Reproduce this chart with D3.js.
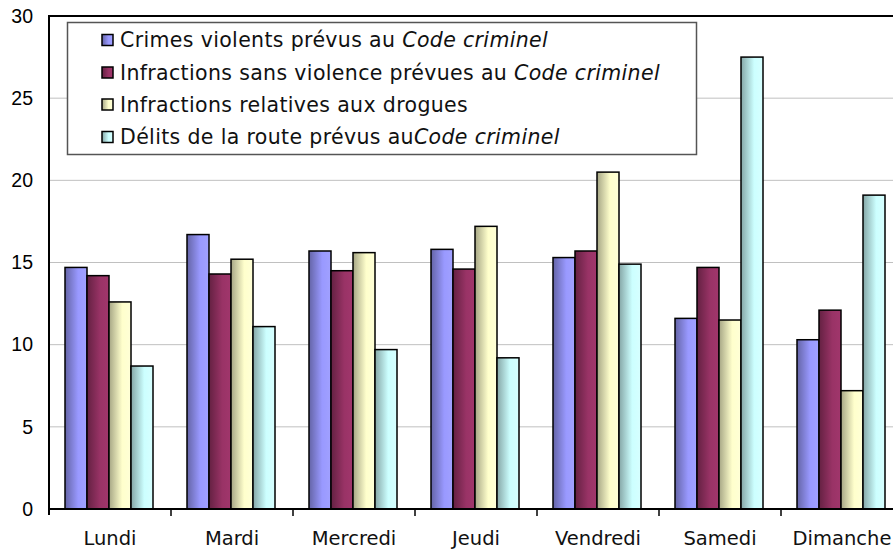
<!DOCTYPE html>
<html><head><meta charset="utf-8">
<script src="https://cdn.jsdelivr.net/npm/d3@7"></script>
<style>body{margin:0;background:#fff;overflow:hidden}svg{display:block}</style>
</head><body>
<script>
const categories = ["Lundi","Mardi","Mercredi","Jeudi","Vendredi","Samedi","Dimanche"];
const seriesNames = [
  ["Crimes violents prévus au ", "Code criminel"],
  ["Infractions sans violence prévues au ", "Code criminel"],
  ["Infractions relatives aux drogues", ""],
  ["Délits de la route prévus au", "Code criminel"]
];
const violent    = [14.7, 16.7, 15.7, 15.8, 15.3, 11.6, 10.3];
const nonViolent = [14.2, 14.3, 14.5, 14.6, 15.7, 14.7, 12.1];
const drugs      = [12.6, 15.2, 15.6, 17.2, 20.5, 11.5, 7.2];
const traffic    = [8.7, 11.1, 9.7, 9.2, 14.9, 27.5, 19.1];
const yTicks = [0, 5, 10, 15, 20, 25, 30];
const colors = ["#9999ff", "#993366", "#ffffcc", "#ccffff"];

(function () {
const series = [violent, nonViolent, drugs, traffic];
const W = 893, H = 550;
const svg = d3.select("body").append("svg").attr("width", W).attr("height", H);
const defs = svg.append("defs");
colors.forEach((c, i) => {
  const g = defs.append("linearGradient").attr("id", "g" + i)
    .attr("x1", "0%").attr("x2", "100%").attr("y1", "0%").attr("y2", "0%");
  const dark = d3.rgb(c).darker(1.2);
  g.append("stop").attr("offset", "0%").attr("stop-color", dark);
  g.append("stop").attr("offset", "60%").attr("stop-color", c);
  g.append("stop").attr("offset", "100%").attr("stop-color", d3.rgb(c).brighter(0.15));
});

const mLeft = 49, mRight = 903, mTop = 16, mBottom = 509;
const y = d3.scaleLinear().domain([0, 30]).range([mBottom, mTop]);
const x0 = d3.scaleBand().domain(categories).range([mLeft, mRight]).padding(0);
const x1 = d3.scaleBand().domain(d3.range(4)).range([16, 104]).padding(0);

// gridlines
svg.append("g").selectAll("line").data(yTicks.filter(t => t > 0 && t < 30)).join("line")
  .attr("x1", mLeft).attr("x2", W).attr("y1", d => y(d)).attr("y2", d => y(d))
  .attr("stroke", "#c0c0c0").attr("stroke-width", 1);

// bars
const groups = svg.append("g").selectAll("g").data(categories).join("g")
  .attr("transform", d => `translate(${x0(d)},0)`);
groups.selectAll("rect").data((d, ci) => series.map((s, si) => ({si, v: s[ci]}))).join("rect")
  .attr("x", d => x1(d.si)).attr("width", x1.bandwidth())
  .attr("y", d => y(d.v)).attr("height", d => y(0) - y(d.v))
  .attr("fill", d => `url(#g${d.si})`).attr("stroke", "#000").attr("stroke-width", 1.5);

// top border
svg.append("line").attr("x1", mLeft).attr("x2", W).attr("y1", mTop).attr("y2", mTop)
  .attr("stroke", "#000").attr("stroke-width", 2);

// y axis
const yAxis = d3.axisLeft(y).tickValues(yTicks).tickSize(0).tickPadding(16).tickFormat(d3.format("d"));
const ya = svg.append("g").attr("transform", `translate(${mLeft},0)`).call(yAxis);
ya.select(".domain").remove();
ya.selectAll("text").attr("font-family", "Liberation Sans, Arial, sans-serif").attr("font-size", "19.5px").attr("fill", "#000");
svg.append("line").attr("x1", mLeft).attr("x2", mLeft).attr("y1", mTop - 1).attr("y2", mBottom + 6)
  .attr("stroke", "#000").attr("stroke-width", 2);

// x axis
const xAxis = d3.axisBottom(x0).tickSize(0).tickPadding(22);
const xa = svg.append("g").attr("transform", `translate(0,${mBottom})`).call(xAxis);
xa.select(".domain").remove();
xa.selectAll("text").attr("font-family", "DejaVu Sans, Verdana, sans-serif").attr("font-size", "19.5px").attr("fill", "#111");
svg.append("line").attr("x1", mLeft).attr("x2", W).attr("y1", mBottom).attr("y2", mBottom)
  .attr("stroke", "#000").attr("stroke-width", 2);
svg.append("g").selectAll("line").data(categories.slice(1)).join("line")
  .attr("x1", d => x0(d)).attr("x2", d => x0(d)).attr("y1", mBottom).attr("y2", mBottom + 7)
  .attr("stroke", "#000").attr("stroke-width", 1.5);

// legend
const lg = svg.append("g");
lg.append("rect").attr("x", 67.5).attr("y", 22.5).attr("width", 629).attr("height", 132)
  .attr("fill", "#fff").attr("stroke", "#555").attr("stroke-width", 1.5);
const baselines = [47, 79.5, 111.5, 144];
seriesNames.forEach((n, i) => {
  lg.append("rect").attr("x", 102).attr("y", baselines[i] - 12.5).attr("width", 11).attr("height", 11)
    .attr("fill", `url(#g${i})`).attr("stroke", "#000").attr("stroke-width", 1.5);
  const t = lg.append("text").attr("x", 120).attr("y", baselines[i])
    .attr("font-family", "DejaVu Sans, Verdana, sans-serif").attr("font-size", "20.5px")
    .attr("letter-spacing", "0.35px").attr("fill", "#111");
  t.append("tspan").text(n[0]);
  if (n[1]) t.append("tspan").attr("font-style", "italic").text(n[1]);
});
})();
</script>
</body></html>
